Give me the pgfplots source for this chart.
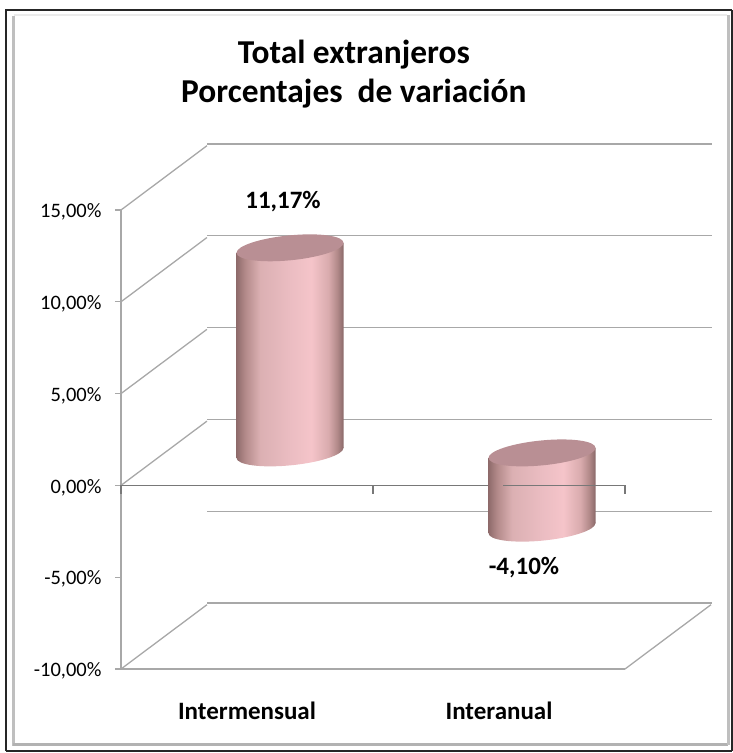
\documentclass[border=0pt]{standalone}
\usepackage{pgfplots}
\pgfplotsset{compat=1.18}
\usepackage{fontspec}
\setmainfont{Carlito}
\definecolor{gridc}{HTML}{A8A8A8}
\definecolor{zeroc}{HTML}{787878}
\definecolor{capc}{HTML}{B98F94}
\pgfdeclarehorizontalshading{cyl}{100bp}{
  rgb(0bp)=(0.56,0.42,0.42);
  rgb(25bp)=(0.56,0.42,0.42);
  rgb(29bp)=(0.70,0.54,0.54);
  rgb(36bp)=(0.86,0.69,0.70);
  rgb(50bp)=(0.92,0.74,0.76);
  rgb(60bp)=(0.96,0.77,0.79);
  rgb(68bp)=(0.85,0.67,0.68);
  rgb(72bp)=(0.70,0.54,0.54);
  rgb(75bp)=(0.54,0.41,0.41);
  rgb(100bp)=(0.54,0.41,0.41)}
\pgfdeclareplotmark{captop}{%
  \pgfpathellipse{\pgfpointorigin}{\pgfqpoint{53.5pt}{5pt}}{\pgfqpoint{0pt}{12.5pt}}%
  \pgfusepathqfill}
\pgfdeclareplotmark{capbody}{%
  \pgfpathellipse{\pgfpointorigin}{\pgfqpoint{53.5pt}{5pt}}{\pgfqpoint{0pt}{12.5pt}}%
  \pgfshadepath{cyl}{0}\pgfusepath{discard}}
\begin{document}
\begin{tikzpicture}[x=1pt,y=1pt]
\path[use as bounding box] (0,0) rectangle (733,753);
% frames
\draw[black!85,line width=2pt] (5.5,2) -- (5.5,743) -- (732,743);
\draw[black!85,line width=1.6pt] (5.5,2) -- (732,2);
\draw[black!85,line width=1.2pt] (732,2) -- (732,743);
\draw[black!25,line width=3pt] (13.5,7) -- (13.5,737);
\draw[black!8,line width=2pt] (13.5,738) -- (727,738);
\draw[black!30,line width=3pt] (13,8) -- (728,8);
\draw[black!25,line width=3pt] (728,8) -- (728,738);
% back wall
\begin{axis}[at={(207pt,150pt)},anchor=south west,scale only axis,width=505pt,height=459pt,
  xmin=0,xmax=2,ymin=-10,ymax=15,
  ytick={-10,-5,0,5,10,15},xtick=\empty,yticklabels={},
  axis line style={draw=none},tick style={draw=none},
  ymajorgrids,grid style={color=gridc,line width=1.3pt},clip=false]
\end{axis}
% cylinders
\begin{axis}[at={(164pt,116.5pt)},anchor=south west,scale only axis,width=504pt,height=459pt,
  xmin=0,xmax=2,ymin=-10,ymax=15,hide axis,clip=false]
\addplot[only marks,mark=capbody] coordinates {(0.5,0)(1.5,-4.10)};
\addplot[draw=none,shade,shading=cyl] coordinates {(0.2877,10.90)(0.7123,11.44)(0.7123,0.27)(0.2877,-0.27)} --cycle;
\addplot[draw=none,shade,shading=cyl] coordinates {(1.2877,-0.27)(1.7123,0.27)(1.7123,-3.83)(1.2877,-4.37)} --cycle;
\addplot[only marks,mark=captop,color=capc] coordinates {(0.5,11.17)(1.5,0)};
\addplot[draw=none,mark=none,point meta=explicit symbolic,nodes near coords,
  every node near coord/.style={anchor=center,xshift=-7pt,yshift=46pt,text=black,font=\fontsize{25}{29}\selectfont\bfseries}]
  coordinates {(0.5,11.17)[11,17\%]};
\addplot[draw=none,mark=none,point meta=explicit symbolic,nodes near coords,
  every node near coord/.style={anchor=center,xshift=-18pt,yshift=-39pt,text=black,font=\fontsize{25}{29}\selectfont\bfseries}]
  coordinates {(1.5,-4.10)[-4,10\%]};
\end{axis}
% front axes
\begin{axis}[at={(121pt,84pt)},anchor=south west,scale only axis,width=504pt,height=459pt,
  xmin=0,xmax=2,ymin=-10,ymax=15,clip=false,unbounded coords=jump,
  axis x line*=bottom,axis y line*=left,tick align=outside,
  axis line style={-,color=gridc,line width=1.3pt},
  xtick={0.5,1.5},xticklabels={Intermensual,Interanual},
  x tick style={draw=none},
  xticklabel style={yshift=-23pt,font=\fontsize{25}{29}\selectfont\bfseries},
  ytick={-10,-5,0,5,10,15},
  yticklabels={-10{,}00\%,-5{,}00\%,0{,}00\%,5{,}00\%,10{,}00\%,15{,}00\%},
  y tick style={color=gridc,line width=1.2pt},major tick length=6pt,
  yticklabel style={font=\fontsize{20.5}{24}\selectfont,xshift=-10pt,yshift=-2pt},
  title={Total extranjeros\\Porcentajes\ \ de variación},
  title style={at={(0.462,1.283)},anchor=center,align=center,font=\fontsize{33.4}{39}\selectfont\bfseries}]
\addplot[color=gridc,line width=1.3pt] coordinates {
  (0,15)(0.341,18.5) (nan,nan)
  (0,10)(0.341,13.5) (nan,nan)
  (0,5)(0.341,8.5) (nan,nan)
  (0,0)(0.341,3.5) (nan,nan)
  (0,-10)(0.341,-6.5) (nan,nan)
  (2,-10)(2.341,-6.5)};
\addplot[color=zeroc,line width=1.1pt] coordinates {
  (0,0)(1.456,0) (nan,nan) (1.516,0)(2,0) (nan,nan)
  (0,0)(0,-0.45) (nan,nan) (1,0)(1,-0.45) (nan,nan) (2,0)(2,-0.45)};
\end{axis}
\end{tikzpicture}
\end{document}
